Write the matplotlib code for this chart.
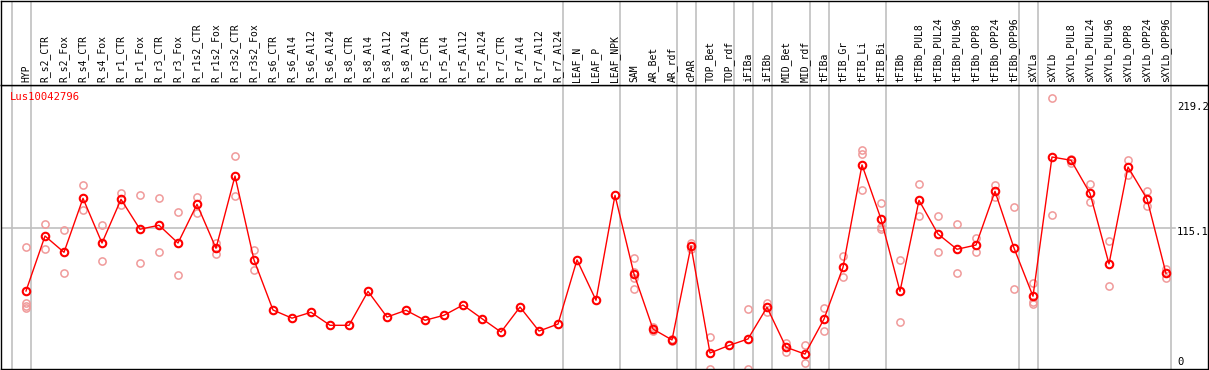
import matplotlib
matplotlib.use("Agg")
import matplotlib.pyplot as plt

# sample labels (columns of the expression chart)
SAMPLES = [
    "HYP", "R_s2_CTR", "R_s2_Fox", "R_s4_CTR", "R_s4_Fox", "R_r1_CTR", "R_r1_Fox",
    "R_r3_CTR", "R_r3_Fox", "R_r1s2_CTR", "R_r1s2_Fox", "R_r3s2_CTR", "R_r3s2_Fox",
    "R_s6_CTR", "R_s6_Al4", "R_s6_Al12", "R_s6_Al24", "R_s8_CTR", "R_s8_Al4",
    "R_s8_Al12", "R_s8_Al24", "R_r5_CTR", "R_r5_Al4", "R_r5_Al12", "R_r5_Al24",
    "R_r7_CTR", "R_r7_Al4", "R_r7_Al12", "R_r7_Al24", "LEAF_N", "LEAF_P", "LEAF_NPK",
    "SAM", "AR_Bet", "AR_rdf", "cPAR", "TOP_Bet", "TOP_rdf", "iFIBa", "iFIBb",
    "MID_Bet", "MID_rdf", "tFIBa", "tFIB_Gr", "tFIB_Li", "tFIB_Bi", "tFIBb",
    "tFIBb_PUL8", "tFIBb_PUL24", "tFIBb_PUL96", "tFIBb_OPP8", "tFIBb_OPP24",
    "tFIBb_OPP96", "sXYLa", "sXYLb", "sXYLb_PUL8", "sXYLb_PUL24", "sXYLb_PUL96",
    "sXYLb_OPP8", "sXYLb_OPP24", "sXYLb_OPP96",
]

# mean expression per sample
MEANS = [
    64.7, 108.6, 95.6, 138.7, 103.0, 137.9, 114.0, 117.2, 103.0, 133.9, 98.8,
    156.5, 89.5, 49.5, 43.0, 47.7, 37.3, 37.3, 64.4, 43.9, 49.3, 41.3, 45.3,
    53.5, 42.6, 31.9, 51.9, 32.7, 38.3, 89.5, 57.3, 141.1, 78.3, 34.3, 25.6,
    100.6, 15.2, 21.2, 26.4, 51.7, 19.8, 14.3, 42.3, 83.6, 165.4, 122.2, 64.4,
    137.1, 110.2, 98.0, 101.4, 144.3, 99.0, 60.5, 171.7, 169.1, 142.7, 86.3,
    163.7, 138.2, 78.8,
]

# replicate values per sample
REPLICATES = [
    [99.8, 55.4, 53.0, 50.9], [118.0, 98.0], [113.2, 78.8], [149.1, 129.2],
    [117.2, 88.4], [143.0, 133.1], [141.1, 86.8], [138.7, 95.6], [127.6, 77.5],
    [139.5, 127.2], [103.3, 94.2], [172.3, 140.3], [97.2, 81.2],
    [], [], [], [], [], [], [], [], [], [], [], [], [], [], [], [], [], [], [],
    [91.0, 80.1, 74.8, 66.0], [36.2, 32.5], [26.5, 24.7], [102.8, 98.0],
    [27.9, 2.5], [], [50.1, 2.5], [55.4, 48.2], [23.4, 16.2], [21.6, 6.9],
    [50.9, 33.0], [92.7, 75.6], [177.0, 174.0, 145.1], [134.7, 115.6, 114.5],
    [89.5, 39.9], [150.2, 124.4], [124.4, 95.6], [118.0, 78.8], [107.0, 95.6],
    [149.4, 139.5], [131.5, 66.0], [71.1, 56.2, 54.6], [219.2, 125.2],
    [170.1, 167.2], [150.2, 135.5], [104.6, 68.7], [169.3, 157.3],
    [144.6, 132.3], [82.3, 74.8],
]

# groups end after these column indices (gray separators)
GROUP_ENDS = [-1, 0, 28, 31, 34, 35, 37, 38, 39, 41, 42, 45, 52, 53, 60]

GENE = "Lus10042796"
Y_LABELS = ["219.2", "115.1", "0"]
Y_GRID = 115.1

W, H = 1209, 370
fig = plt.figure(figsize=(W / 100, H / 100), dpi=100)
ax = fig.add_axes([1 / W, 1 / H, 1207 / W, 284 / H])
hdr = fig.add_axes([1 / W, 285 / H, 1207 / W, 84 / H], sharex=ax)

x = list(range(len(SAMPLES)))
ax.set_xlim((1 - 26) / 19, (1208 - 26) / 19)
ax.set_ylim(2.4, 229.2)

for a in (ax, hdr):
    a.set_xticks([])
    a.set_yticks([])
    for s in a.spines.values():
        s.set_color("black")
        s.set_linewidth(1.0)
    for g in GROUP_ENDS:
        a.axvline(g + 0.25, color="#c0c0c0", lw=1.2, zorder=0)
hdr.set_ylim(0, 1)

ax.axhline(Y_GRID, xmax=0.973, color="#c0c0c0", lw=1.2, zorder=0)

# replicates
rx, ry = [], []
for i, reps in enumerate(REPLICATES):
    for v in reps:
        rx.append(i)
        ry.append(v)
ax.plot(rx, ry, "o", ms=5.2, mfc="none", mec="#f09a9a", mew=1.1, zorder=2)

# means
ax.plot(x, MEANS, "-", color="red", lw=1, zorder=3)
ax.plot(x, MEANS, "o", ms=5.4, mfc="none", mec="red", mew=1.5, zorder=4)

# header labels
for i, name in enumerate(SAMPLES):
    hdr.text(i, 0.03, name, rotation=90, ha="center", va="bottom",
             family="DejaVu Sans Mono", fontsize=7.0, color="black")

ax.text(9 / 1207, (369 - 97) / 284, GENE, transform=ax.transAxes, color="red",
        family="DejaVu Sans Mono", fontsize=7.6, ha="left", va="center")

# value labels on the right
for lab, ypx in zip(Y_LABELS, [107, 232, 362]):
    ax.text(1178 / W, 1 - (ypx - 85) / 284, lab, transform=ax.transAxes,
            family="DejaVu Sans Mono", fontsize=7.6, ha="left", va="center",
            clip_on=False)

fig.savefig("out.png", dpi=100)
